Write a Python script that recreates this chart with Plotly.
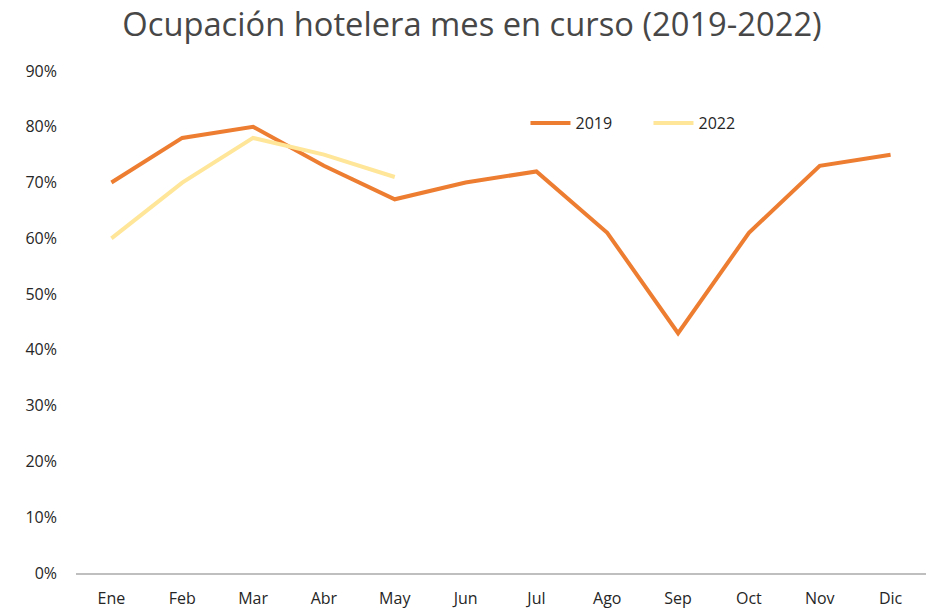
import plotly.graph_objects as go

months = ["Ene", "Feb", "Mar", "Abr", "May", "Jun", "Jul", "Ago", "Sep", "Oct", "Nov", "Dic"]
occ_2019 = [0.70, 0.78, 0.80, 0.73, 0.67, 0.70, 0.72, 0.61, 0.43, 0.61, 0.73, 0.75]
occ_2022 = [0.60, 0.70, 0.78, 0.75, 0.71]

font_family = "Open Sans, Noto Sans, sans-serif"

fig = go.Figure()
fig.add_trace(go.Scatter(x=months, y=occ_2019, mode="lines", name="2019",
                         line=dict(color="#ED7D31", width=4)))
fig.add_trace(go.Scatter(x=months[:len(occ_2022)], y=occ_2022, mode="lines", name="2022",
                         line=dict(color="#FFE699", width=4)))

fig.update_layout(
    width=931, height=613,
    margin=dict(l=76, r=5, t=71, b=40, autoexpand=False),
    paper_bgcolor="white", plot_bgcolor="white",
    font=dict(family=font_family, size=16, color="#262626"),
    title=dict(text="Ocupación hotelera mes en curso (2019-2022)",
               x=0.507, xanchor="center", y=0.96, yanchor="middle",
               font=dict(size=32.7, color="#474747", family=font_family)),
    legend=dict(orientation="h", x=0.5288, xanchor="left", y=0.896, yanchor="middle",
                bgcolor="rgba(0,0,0,0)", font=dict(size=16, color="#262626"),
                itemwidth=40, entrywidth=68, entrywidthmode="pixels", tracegroupgap=0),
    showlegend=True,
)
fig.update_xaxes(type="category", categoryorder="array", categoryarray=months,
                 range=[-0.5, 11.5], showgrid=False, showline=True,
                 linecolor="#BFBFBF", linewidth=2, ticks="", zeroline=False,
                 ticklabelstandoff=10, automargin=False)
fig.update_yaxes(range=[0, 0.9], tickvals=[i / 10 for i in range(10)],
                 tickformat=".0%", showgrid=False, showline=False, zeroline=False,
                 ticks="", ticklabelstandoff=18, automargin=False)

fig.write_html("out.html", config={"displayModeBar": False},
               post_script="document.body.style.margin='0';")
